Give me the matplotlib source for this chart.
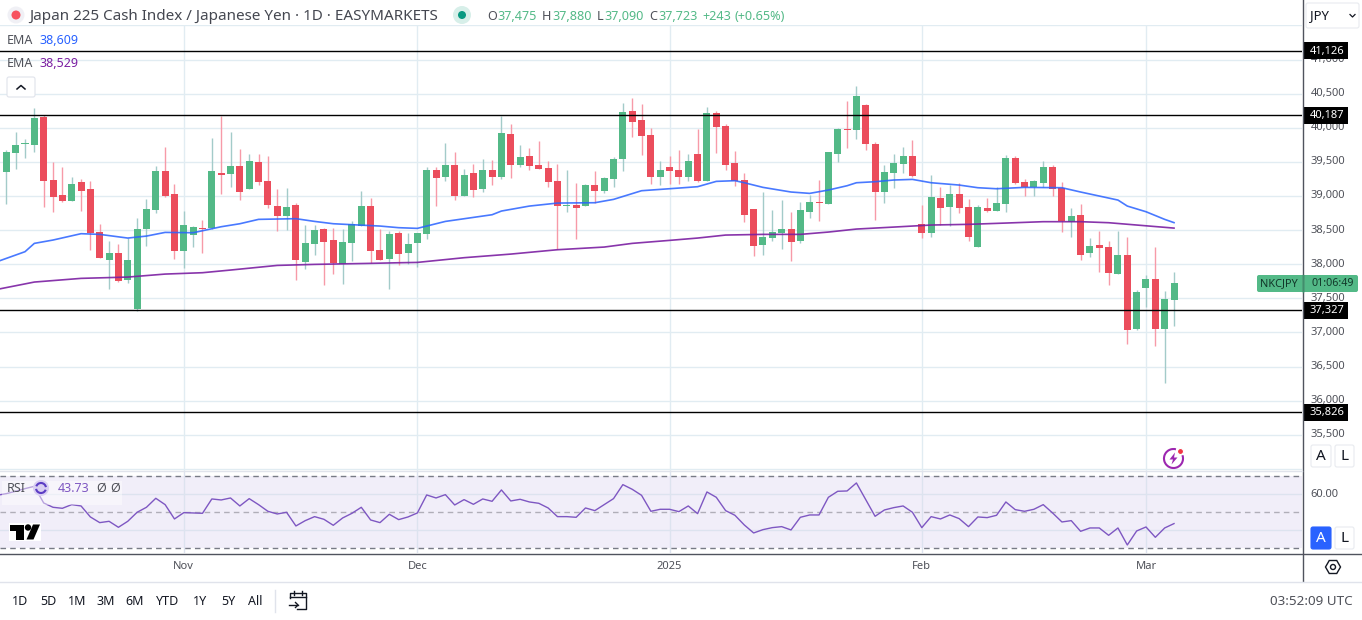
import matplotlib
matplotlib.use("Agg")
import matplotlib.pyplot as plt
import numpy as np
from matplotlib.patches import Rectangle, FancyBboxPatch, Circle, Polygon, RegularPolygon, Arc

plt.rcParams["font.family"] = ["Noto Sans", "DejaVu Sans"]

W, H = 1362, 620
PANE_RIGHT = 1302

# daily candles
opens = [39219, 39351, 39630, 39767, 39747, 40158, 39234, 39014, 38926, 39204,
         39102, 38471, 38060, 38163, 37767, 37342, 38515, 38794, 39366, 39028,
         38192, 38427, 38530, 38530, 39336, 39322, 39439, 39102, 39498, 39219,
         38852, 38706, 38867, 38031, 38295, 38515, 38354, 38002, 38310, 38559,
         38852, 38207, 38075, 38456, 38163, 38310, 38442, 39380, 39278, 39454,
         38999, 39336, 39102, 39380, 39278, 39908, 39454, 39586, 39454, 39410,
         39219, 38852, 38867, 38852, 39160, 39072, 39248, 39542, 40246, 40114,
         39894, 39278, 39424, 39380, 39278, 39615, 39219, 40216, 40026, 39483,
         39234, 38808, 38280, 38383, 38456, 38515, 38339, 38764, 38911, 38882,
         39615, 39982, 39967, 40334, 39762, 39058, 39336, 39468, 39586, 38588,
         38456, 38970, 38838, 39028, 38838, 38251, 38823, 38779, 38882, 39556,
         39204, 39131, 39190, 39424, 39116, 38618, 38720, 38163, 38280, 38251,
         37855, 38134, 37049, 37650, 37782, 37049, 37475]
highs = [39454, 39674, 39938, 39830, 40290, 40187, 39498, 39424, 39278, 39248,
         39219, 38588, 38339, 38295, 38383, 38676, 38955, 39439, 39718, 39175,
         38779, 38559, 38647, 39850, 40172, 39938, 39688, 39615, 39615, 39586,
         39102, 39116, 38896, 38574, 38574, 38530, 38530, 38515, 38632, 39072,
         38970, 38515, 38486, 38486, 38456, 38456, 39424, 39424, 39776, 39644,
         39395, 39468, 39542, 39527, 40172, 40055, 39747, 39703, 39806, 39512,
         39468, 39380, 39190, 39175, 39366, 39278, 39571, 40363, 40436, 40348,
         39996, 39512, 39586, 39674, 39615, 39982, 40304, 40246, 40055, 39659,
         39336, 38808, 39058, 38794, 38940, 38764, 38911, 39014, 39234, 39644,
         39996, 40392, 40612, 40348, 39791, 39454, 39615, 39718, 39820, 38867,
         39307, 39131, 39160, 39190, 38955, 38867, 38970, 39131, 39600, 39586,
         39248, 39234, 39512, 39454, 39204, 38823, 38882, 38383, 38486, 38339,
         38486, 38398, 37621, 37840, 38251, 37606, 37880]
lows = [39087, 38882, 39395, 39556, 39644, 38838, 38764, 38911, 38926, 38779,
        38207, 38090, 37635, 37738, 37723, 37313, 38266, 38750, 38984, 38075,
        37943, 38251, 38163, 38515, 39028, 39131, 38940, 39102, 39160, 38823,
        38486, 38500, 37767, 37928, 38134, 37694, 37855, 37709, 38046, 38559,
        38016, 38060, 37635, 37987, 38002, 37958, 38368, 38852, 39219, 38940,
        38999, 38984, 39058, 39160, 39248, 39263, 39424, 39380, 39395, 39131,
        38222, 38764, 38368, 38852, 38896, 39043, 39131, 39366, 39865, 39600,
        39175, 39160, 39175, 39175, 39219, 39204, 39219, 39630, 39380, 39146,
        38618, 38119, 38134, 38339, 38222, 38046, 38310, 38676, 38632, 38882,
        39498, 39703, 39835, 39674, 38647, 38896, 39116, 39336, 39278, 38383,
        38398, 38574, 38559, 38750, 38339, 38251, 38764, 38779, 38764, 39175,
        38999, 38999, 39131, 38999, 38471, 38398, 38060, 38104, 37884, 37694,
        37855, 36829, 37034, 37371, 36799, 36257, 37090]
closes = [39380, 39644, 39747, 39776, 40143, 39219, 38984, 38926, 39175, 39072,
          38452, 38090, 38163, 37752, 38060, 38515, 38808, 39366, 38999, 38192,
          38574, 38544, 38515, 39366, 39307, 39439, 39058, 39512, 39204, 38867,
          38706, 38838, 38060, 38310, 38500, 38324, 38016, 38324, 38588, 38852,
          38192, 38060, 38442, 38148, 38295, 38456, 39380, 39263, 39454, 38999,
          39307, 39087, 39380, 39278, 39923, 39454, 39571, 39439, 39395, 39204,
          38852, 38867, 38823, 39160, 39072, 39263, 39542, 40231, 40085, 39879,
          39278, 39380, 39366, 39278, 39512, 39219, 40216, 40011, 39454, 39219,
          38720, 38266, 38398, 38471, 38515, 38324, 38794, 38911, 38896, 39644,
          39982, 39967, 40466, 39762, 39058, 39351, 39483, 39586, 39292, 38456,
          38984, 38823, 39028, 38823, 38398, 38838, 38779, 38896, 39556, 39190,
          39131, 39219, 39424, 39102, 38632, 38706, 38134, 38266, 38236, 37870,
          38134, 37034, 37591, 37782, 37049, 37489, 37723]

# EMA readings at these bars
ema_fast_bars = [0, 3, 4, 6, 9, 11, 14, 16, 18, 21, 24, 26, 28, 32, 34, 36, 38, 41, 43, 45,
                 46, 48, 53, 54, 57, 60, 64, 66, 69, 73, 75, 77, 79, 80, 82, 85, 87, 89,
                 91, 92, 94, 96, 98, 100, 103, 105, 107, 110, 114, 116, 118, 120, 121,
                 123, 125, 126]
ema_fast = [38036, 38183, 38305, 38354, 38447, 38437, 38383, 38412, 38466, 38461, 38549,
            38593, 38657, 38667, 38627, 38593, 38579, 38559, 38535, 38525, 38559, 38627,
            38725, 38779, 38852, 38896, 38901, 38950, 39077, 39116, 39136, 39214, 39224,
            39194, 39126, 39058, 39038, 39087, 39150, 39194, 39209, 39234, 39243, 39194,
            39160, 39121, 39106, 39126, 39121, 39058, 38999, 38940, 38852, 38769, 38657,
            38609]
ema_slow_bars = [0, 4, 9, 14, 18, 22, 25, 30, 34, 40, 43, 45, 50, 55, 60, 65, 68, 72, 75,
                 78, 82, 86, 89, 92, 96, 100, 104, 108, 112, 116, 119, 122, 126]
ema_slow = [37630, 37738, 37792, 37811, 37855, 37875, 37914, 37982, 37997, 38012, 38021,
            38026, 38095, 38148, 38212, 38251, 38305, 38349, 38383, 38427, 38437, 38437,
            38471, 38515, 38544, 38574, 38584, 38603, 38623, 38623, 38608, 38574, 38529]

rsi = [59.44, 60.37, 61.67, 63.15, 64.44, 55.19, 52.78, 52.22, 54.26, 53.52, 47.41, 44.26,
       45.0, 41.67, 45.0, 50.0, 52.78, 57.78, 54.26, 46.3, 49.81, 49.63, 49.44, 57.41,
       56.85, 57.96, 53.52, 57.59, 54.26, 50.56, 49.07, 50.0, 42.41, 45.37, 47.59, 46.11,
       42.78, 46.85, 49.44, 52.78, 45.74, 44.26, 48.89, 45.93, 47.41, 49.63, 59.63, 57.96,
       59.81, 54.07, 57.04, 54.44, 57.41, 56.11, 62.41, 56.3, 57.22, 55.74, 55.0, 52.41,
       47.59, 47.59, 47.22, 52.41, 50.93, 54.26, 57.59, 65.37, 62.78, 59.44, 50.56, 51.67,
       51.67, 50.37, 53.52, 49.26, 61.3, 58.33, 50.93, 48.33, 42.96, 38.52, 40.37, 41.48,
       42.04, 40.19, 47.22, 48.52, 48.52, 58.33, 61.67, 61.85, 66.3, 57.04, 47.78, 51.3,
       52.59, 53.52, 50.0, 41.48, 47.59, 46.3, 48.52, 46.48, 42.04, 47.41, 47.04, 48.33,
       55.74, 51.48, 50.56, 51.67, 54.26, 49.63, 44.63, 45.37, 39.44, 41.3, 41.3, 37.22,
       41.3, 31.85, 39.63, 41.85, 36.11, 41.3, 43.73]

levels = [41126, 40187, 37327, 35826]
price_ticks = [35000, 35500, 36000, 36500, 37000, 37500, 38000, 38500, 39000, 39500,
               40000, 40500, 41000, 41500]
price_labels = ["", "35,500", "36,000", "36,500", "37,000", "37,500", "38,000", "38,500",
                "39,000", "39,500", "40,000", "40,500", "41,000", ""]
month_bars = [20, 45, 72, 99, 123]
month_labels = ["Nov", "Dec", "2025", "Feb", "Mar"]
ranges = ["1D", "5D", "1M", "3M", "6M", "YTD", "1Y", "5Y", "All"]
range_pos = [20, 48, 77, 106, 135, 168, 200, 228, 255]

UP = "#53b987"
DOWN = "#eb4d5c"
UP_WICK = "#a3cbc9"
DOWN_WICK = "#f79aa8"
GRID = "#e1ecf2"
TEXT = "#4f5159"
AXIS = "#50535e"


def pane(fig, top, bottom):
    return fig.add_axes([0, 1 - bottom / H, PANE_RIGHT / W, (bottom - top) / H])


def price_y(price):
    return 93.67 + (40500 - price) * 0.0682


def button(ui, x0, y0, x1, y1, label, face="white", edge="#e8eaef", color="#131722"):
    ui.add_patch(FancyBboxPatch((x0 + 2, y0 + 2), x1 - x0 - 4, y1 - y0 - 4,
                                boxstyle="round,pad=2", fc=face, ec=edge, lw=0.8))
    ui.text((x0 + x1) / 2, (y0 + y1) / 2 + 0.5, label, ha="center", va="center", fontsize=11, color=color)


fig = plt.figure(figsize=(W / 100, H / 100), dpi=100, facecolor="white")
ax = pane(fig, 0, 471)
ax_rsi = pane(fig, 471, 553)

o = np.array(opens)
c = np.array(closes)
hi = np.array(highs)
lo = np.array(lows)
x = np.arange(len(o))
up = c >= o

# --- price pane ---
ax.vlines(x[up], lo[up], hi[up], color=UP_WICK, lw=1.0, zorder=2)
ax.vlines(x[~up], lo[~up], hi[~up], color=DOWN_WICK, lw=1.0, zorder=2)
ax.bar(x[up], (c - o)[up], bottom=o[up], width=0.75, color=UP, zorder=3)
ax.bar(x[~up], (o - c)[~up], bottom=c[~up], width=0.75, color=DOWN, zorder=3)
ax.plot(ema_fast_bars, ema_fast, color="#2962ff", lw=1.2, alpha=0.85, zorder=4)
ax.plot(ema_slow_bars, ema_slow, color="#7b1fa2", lw=1.2, alpha=0.9, zorder=4)
for lev in levels:
    ax.axhline(lev, color="black", lw=1.0, zorder=5)

ax.set_xlim(0.324, 139.7)
ax.set_ylim(34968, 41873)
ax.set_xticks(month_bars)
ax.set_xticklabels([])
ax.set_yticks(price_ticks)
ax.set_yticklabels(price_labels, fontsize=8, color=TEXT, va="center")
ax.yaxis.tick_right()
ax.tick_params(length=0, pad=6)
ax.grid(True, color=GRID, lw=1.0, zorder=0)
ax.set_axisbelow(True)
for s in ax.spines.values():
    s.set_visible(False)

# --- rsi pane ---
ax_rsi.axhspan(30, 70, color="#f1eef9", lw=0, zorder=0)
ax_rsi.plot(x, rsi, color="#7e57c2", lw=1.0, zorder=3)
ax_rsi.axhline(70, color="#787b86", lw=1.0, ls=(0, (4, 3)), zorder=2)
ax_rsi.axhline(50, color="#b0aeb8", lw=1.0, ls=(0, (4, 3)), zorder=2)
ax_rsi.axhline(30, color="#787b86", lw=1.0, ls=(0, (4, 3)), zorder=2)
ax_rsi.set_xlim(ax.get_xlim())
ax_rsi.set_ylim(27.39, 72.94)
ax_rsi.set_xticks(month_bars)
ax_rsi.set_xticklabels(month_labels, fontsize=8, color=TEXT)
ax_rsi.set_yticks([40, 60])
ax_rsi.set_yticklabels(["", "60.00"], fontsize=8, color=TEXT, va="center")
ax_rsi.yaxis.tick_right()
ax_rsi.tick_params(length=0, pad=6)
ax_rsi.grid(True, color="#dde3ef", lw=1.0, zorder=1)
ax_rsi.set_axisbelow(True)
for s in ax_rsi.spines.values():
    s.set_visible(False)

# --- chart furniture, in screen pixels ---
ui = fig.add_axes([0, 0, 1, 1], facecolor="none")
ui.set_xlim(0, W)
ui.set_ylim(H, 0)
ui.axis("off")

ui.add_patch(Rectangle((0, 0), PANE_RIGHT, 25, fc="white", ec="none"))
ui.plot([PANE_RIGHT + 0.5] * 2, [0, 581], color=AXIS, lw=1.0)
ui.plot([0, W], [553.5, 553.5], color=AXIS, lw=1.0)
ui.plot([0, PANE_RIGHT], [471, 471], color="#e0e3eb", lw=1.0)
ui.plot([0, W], [581.5, 581.5], color="#e0e3eb", lw=1.0)

# title row
ui.add_patch(Circle((16, 15), 8.5, fc="#f0f0f5", ec="none"))
ui.add_patch(Circle((16, 15), 4.5, fc="#f7525f", ec="none"))
ui.text(29, 16, "Japan 225 Cash Index / Japanese Yen · 1D · EASYMARKETS", fontsize=10.95,
        color="#444750", va="center")
ui.add_patch(Circle((462, 15), 9, fc="#d7efe9", ec="none"))
ui.add_patch(Circle((462, 15), 4, fc="#089981", ec="none"))
ohlc_parts = [(487.5, "O", TEXT), (497, "37,475", UP), (542, "H", TEXT), (552, "37,880", UP),
              (597, "L", TEXT), (604, "37,090", UP), (649, "C", TEXT), (658, "37,723", UP),
              (702.5, "+243", UP), (734.5, "(+0.65%)", UP)]
for px, s, col in ohlc_parts:
    ui.text(px, 16, s, fontsize=9.1, color=col, va="center")

ui.text(7, 40, "EMA", fontsize=9, color=TEXT, va="center")
ui.text(39, 40, "38,609", fontsize=9, color="#2962ff", va="center")
ui.text(7, 63.5, "EMA", fontsize=9, color=TEXT, va="center")
ui.text(39, 63.5, "38,529", fontsize=9, color="#7b1fa2", va="center")
ui.add_patch(FancyBboxPatch((9, 79), 24, 16, boxstyle="round,pad=2", fc="white", ec="#e0e3eb", lw=0.8))
ui.plot([17, 21, 25], [89, 85.5, 89], color="#131722", lw=1.1)

# level tags
for lev in levels:
    ui.add_patch(Rectangle((1303, price_y(lev) - 8.5), 45, 17, fc="black", ec="none"))
    ui.text(1327, price_y(lev) + 0.5, f"{lev:,}", fontsize=8, fontweight="bold", color="white",
            ha="center", va="center")

# last price tag
ui.add_patch(FancyBboxPatch((1259, 277), 97, 13, boxstyle="round,pad=2", fc=UP, ec="none"))
ui.plot([PANE_RIGHT + 0.5] * 2, [275, 292], color="#3f8f6c", lw=1.0)
ui.text(1260, 284, "NKCJPY", fontsize=7.9, color="#12382a", va="center")
ui.text(1311, 284, "01:06:49", fontsize=7.7, color="#12382a", va="center")

# currency button
ui.add_patch(FancyBboxPatch((1308, 5), 49, 21, boxstyle="round,pad=2", fc="white", ec="#e8eaef", lw=0.8))
ui.text(1310, 15.5, "JPY", fontsize=9.5, color="#131722", va="center")
ui.plot([1350, 1352.5, 1355], [14.5, 17, 14.5], color="#131722", lw=0.9)

button(ui, 1311, 445, 1331, 467, "A")
button(ui, 1335, 445, 1354, 467, "L")
button(ui, 1311, 527, 1331, 549, "A", face="#2962ff", edge="#2962ff", color="white")
button(ui, 1335, 527, 1354, 549, "L")

# alert icon
ui.add_patch(Arc((1173.5, 458.5), 19, 19, theta1=-20, theta2=285, color="#9c27b0", lw=1.5))
ui.add_patch(Polygon([(1175, 452.5), (1169.5, 459.5), (1173, 459.5), (1171.5, 464.5),
                      (1177.5, 457.5), (1174, 457.5)], fc="#9c27b0", ec="none"))
ui.add_patch(Circle((1180.5, 451.5), 3, fc="#f23645", ec="white", lw=0.8))

# rsi legend
ui.add_patch(Rectangle((2, 481), 120, 24, fc="white", ec="none", alpha=0.45))
ui.text(7, 488.5, "RSI", fontsize=9, color=TEXT, va="center")
ui.add_patch(Circle((41, 488), 8, fc="#d9cff2", ec="none"))
ui.add_patch(Arc((41, 488), 10, 10, theta1=20, theta2=170, color="#5b3cc4", lw=1.5))
ui.add_patch(Arc((41, 488), 10, 10, theta1=200, theta2=350, color="#5b3cc4", lw=1.5))
ui.text(58, 488.5, "43.73", fontsize=9, color="#7e57c2", va="center")
ui.text(96.5, 488.5, "Ø", fontsize=9, color=TEXT, va="center")
ui.text(110.5, 488.5, "Ø", fontsize=9, color=TEXT, va="center")

# tv logo
ui.add_patch(Rectangle((8.5, 523), 32, 18, fc="white", ec="none"))
ui.add_patch(Polygon([(9.5, 524.5), (24, 524.5), (24, 539.5), (15.5, 539.5), (15.5, 531), (9.5, 531)],
                     fc="black", ec="none"))
ui.add_patch(Circle((28, 527.5), 3.2, fc="black", ec="none"))
ui.add_patch(Polygon([(33, 524.5), (40, 524.5), (33.5, 539.5), (26.5, 539.5)], fc="black", ec="none"))

# bottom bar
for px, s in zip(range_pos, ranges):
    ui.text(px, 601.5, s, fontsize=9, color="#131722", ha="center", va="center")
ui.plot([274.5, 274.5], [590, 612], color="#e0e3eb", lw=1.0)
ui.plot([290, 290, 306, 306, 297], [598, 593, 593, 609, 609], color="#131722", lw=1.0)
ui.plot([290, 306], [597, 597], color="#131722", lw=1.0)
ui.plot([294, 294], [591, 594.5], color="#131722", lw=1.0)
ui.plot([302, 302], [591, 594.5], color="#131722", lw=1.0)
ui.plot([289, 298], [605, 605], color="#131722", lw=1.0)
ui.plot([295.5, 298, 295.5], [602.5, 605, 607.5], color="#131722", lw=1.0)
ui.text(1353, 601.5, "03:52:09 UTC", fontsize=9.7, color=TEXT, ha="right", va="center")
ui.add_patch(RegularPolygon((1333, 567), 6, radius=7.5, orientation=np.pi / 2, fc="white", ec="#131722", lw=1.0))
ui.add_patch(Circle((1333, 567), 2.5, fc="white", ec="#131722", lw=1.0))

fig.savefig("out.png", dpi=100)
plt.close(fig)
